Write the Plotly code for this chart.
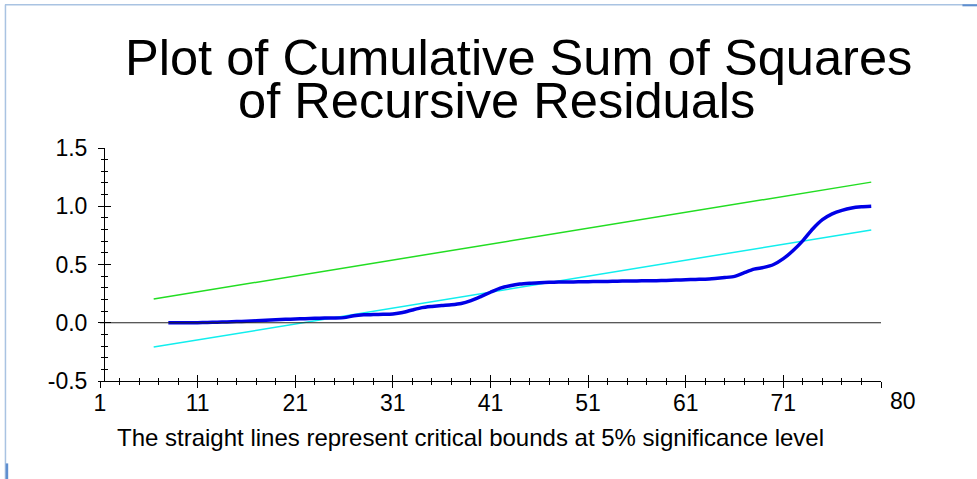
import plotly.graph_objects as go

# Observation index for the cumulative sum of squares (recursive residuals)
obs = list(range(8, 81))
cusumsq = [
    0.000, 0.000, 0.000, 0.001, 0.003, 0.005, 0.007, 0.010, 0.013, 0.017,   # 8-17
    0.021, 0.025, 0.029, 0.032, 0.035, 0.038, 0.040, 0.041, 0.044, 0.060,   # 18-27
    0.068, 0.070, 0.072, 0.076, 0.088, 0.110, 0.130, 0.140, 0.148, 0.154,   # 28-37
    0.165, 0.190, 0.225, 0.262, 0.297, 0.318, 0.333, 0.340, 0.344, 0.347,   # 38-47
    0.349, 0.350, 0.351, 0.353, 0.354, 0.355, 0.357, 0.358, 0.359, 0.360,   # 48-57
    0.361, 0.363, 0.366, 0.369, 0.372, 0.374, 0.380, 0.388, 0.398, 0.430,   # 58-67
    0.460, 0.475, 0.500, 0.550, 0.620, 0.705, 0.805, 0.885, 0.935, 0.965,   # 68-77
    0.985, 0.995, 1.000,                                                    # 78-80
]

# 5% critical bounds (straight lines, start and end points)
bound_x = [6.5, 80]
upper_bound = [0.204, 1.207]
lower_bound = [-0.209, 0.797]

# Axis ticks
x_tickvals = [1, 11, 21, 31, 41, 51, 61, 71, 81]
x_ticktext = ["1", "11", "21", "31", "41", "51", "61", "71", ""]
y_tickvals = [-0.5, 0.0, 0.5, 1.0, 1.5]
y_ticktext = ["-0.5", "0.0", "0.5", "1.0", "1.5"]
x_range = [1, 81]
y_range = [-0.5, 1.5]

W, H = 977, 479
L, R, T, B = 100, 96.4, 148, 98.3
plot_w = W - L - R
plot_h = H - T - B
FONT = "Liberation Sans, Arial, Helvetica, sans-serif"


def px_x(p):
    return (p - L) / plot_w


def px_y(p):
    return (H - B - p) / plot_h


fig = go.Figure()

fig.add_trace(go.Scatter(x=bound_x, y=upper_bound, mode="lines",
                         line=dict(color="#22dd22", width=1.5), hoverinfo="skip"))
fig.add_trace(go.Scatter(x=bound_x, y=lower_bound, mode="lines",
                         line=dict(color="#11eeee", width=1.5), hoverinfo="skip"))
fig.add_trace(go.Scatter(x=obs, y=cusumsq, mode="lines",
                         line=dict(color="#0000e6", width=3.5, shape="spline", smoothing=0.6),
                         hoverinfo="skip"))
# zero reference line, drawn on the overlay axes
fig.add_trace(go.Scatter(x=x_range, y=[0, 0], mode="lines", xaxis="x2", yaxis="y2",
                         line=dict(color="#222222", width=1), hoverinfo="skip"))

axis_pos = px_x(104)
tick_font = dict(size=23, family=FONT, color="black")

fig.update_layout(
    width=W, height=H,
    margin=dict(l=L, r=R, t=T, b=B, pad=0),
    paper_bgcolor="white", plot_bgcolor="white",
    showlegend=False,
    font=dict(family=FONT, color="black"),
    # labelled axes carry the inner half of each crossing tick
    xaxis=dict(range=x_range, tickmode="array", tickvals=x_tickvals, ticktext=x_ticktext,
               ticks="inside", ticklen=6, tickwidth=1, tickcolor="black",
               showline=True, linecolor="black", linewidth=1,
               showgrid=False, zeroline=False, tickfont=tick_font,
               ticklabelstandoff=1,
               minor=dict(tickmode="linear", tick0=1, dtick=2, ticks="inside",
                          ticklen=3, tickcolor="black")),
    yaxis=dict(range=y_range, tickmode="array", tickvals=y_tickvals, ticktext=y_ticktext,
               anchor="free", position=axis_pos,
               ticks="inside", ticklen=6, tickwidth=1, tickcolor="black",
               showline=True, linecolor="black", linewidth=1,
               showgrid=False, zeroline=False, tickfont=tick_font,
               ticklabelstandoff=12,
               minor=dict(tickmode="linear", tick0=-0.5, dtick=0.1, ticks="inside",
                          ticklen=3, tickcolor="black")),
    # overlay axes carry the outer half of each crossing tick
    xaxis2=dict(range=x_range, overlaying="x", anchor="y2", side="bottom",
                tickmode="array", tickvals=x_tickvals, showticklabels=False,
                ticks="outside", ticklen=6, tickcolor="black", showline=False,
                showgrid=False, zeroline=False,
                minor=dict(tickmode="linear", tick0=1, dtick=2, ticks="outside",
                           ticklen=3, tickcolor="black")),
    yaxis2=dict(range=y_range, overlaying="y", anchor="free", position=axis_pos,
                tickmode="array", tickvals=y_tickvals, showticklabels=False,
                ticks="outside", ticklen=6, tickcolor="black", showline=False,
                showgrid=False, zeroline=False,
                minor=dict(tickmode="linear", tick0=-0.5, dtick=0.1, ticks="outside",
                           ticklen=3, tickcolor="black")),
)

# Title, two centred lines
fig.add_annotation(text="Plot of Cumulative Sum of Squares", xref="paper", yref="paper",
                   x=px_x(518.5), y=px_y(57.3), xanchor="center", yanchor="middle",
                   showarrow=False, font=dict(size=50.6, family=FONT, color="black"))
fig.add_annotation(text="of Recursive Residuals", xref="paper", yref="paper",
                   x=px_x(496.5), y=px_y(101), xanchor="center", yanchor="middle",
                   showarrow=False, font=dict(size=50.6, family=FONT, color="black"))
# Footnote under the axis
fig.add_annotation(text="The straight lines represent critical bounds at 5% significance level",
                   xref="paper", yref="paper", x=px_x(470), y=px_y(437.6),
                   xanchor="center", yanchor="middle", showarrow=False,
                   font=dict(size=24, family=FONT, color="black"))
# Label for the end of the x axis
fig.add_annotation(text="80", xref="x", yref="paper", x=81, y=px_y(401),
                   xanchor="left", yanchor="middle", xshift=7, showarrow=False,
                   font=tick_font)

# Frame lines around the page
frame = "#a9c3e2"
fig.add_shape(type="line", xref="paper", yref="paper",
              x0=px_x(5), x1=px_x(977), y0=px_y(5), y1=px_y(5),
              line=dict(color=frame, width=1.5))
fig.add_shape(type="line", xref="paper", yref="paper",
              x0=px_x(5.5), x1=px_x(5.5), y0=px_y(5), y1=px_y(479),
              line=dict(color=frame, width=1.5))
fig.add_shape(type="line", xref="paper", yref="paper",
              x0=px_x(962), x1=px_x(977), y0=px_y(5.5), y1=px_y(5.5),
              line=dict(color="#5f8fcf", width=2))
fig.add_shape(type="line", xref="paper", yref="paper",
              x0=px_x(7), x1=px_x(7), y0=px_y(463), y1=px_y(479),
              line=dict(color="#5f8fcf", width=2.5))

fig.write_html("out.html")
